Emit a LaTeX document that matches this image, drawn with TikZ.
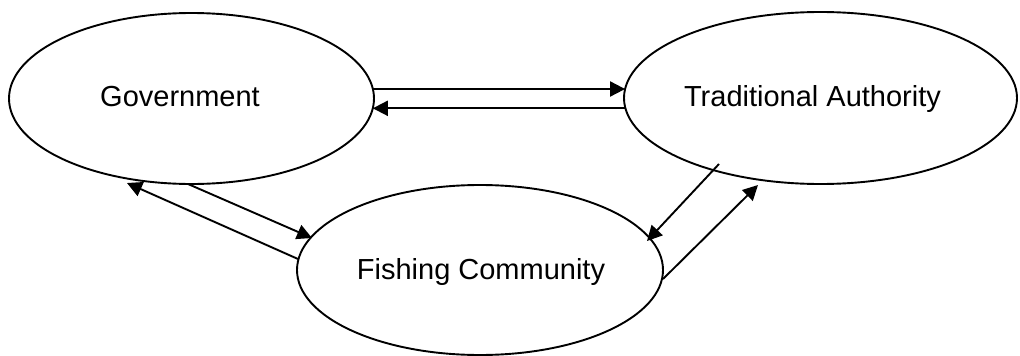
\documentclass[tikz,border=0pt]{standalone}
\usepackage{fontspec}
\setmainfont{Liberation Sans}
\usetikzlibrary{shapes.geometric,arrows.meta,calc}
\begin{document}
\begin{tikzpicture}[x=1pt,y=-1pt,
  oval/.style={draw, ellipse, line width=1.9pt, inner sep=0pt},
  lbl/.style={anchor=base, font=\fontsize{29}{34}\selectfont, inner sep=0pt},
  link/.style={line width=1.9pt, -{Triangle[length=15pt,width=15pt]}}]
\useasboundingbox (0,0) rectangle (1020,356);
\node[oval, minimum width=365pt, minimum height=171pt] (gov) at (191.5,98.5) {};
\node[oval, minimum width=393pt, minimum height=172pt] (ta) at (820.5,98) {};
\node[oval, minimum width=366pt, minimum height=170pt] (fc) at (480,270) {};
\node[lbl] (govtext) at (180,106.5) {Government};
\node[lbl] (tatext) at (812.5,106) {Traditional Authority};
\node[lbl] (fctext) at (481,279) {Fishing Community};
\draw[link] ($(gov)+(181.4,-9.5)$) -- ($(ta)+(-195.4,-9)$);
\draw[link] ($(ta)+(-195.1,10.3)$) -- ($(gov)+(181.3,9.8)$);
\draw[link] ($(gov)+(-3.5,85.5)$) -- ($(fc)+(-168,-32)$);
\draw[link] ($(fc)+(-182,-11)$) -- ($(gov)+(-64.5,84.5)$);
\draw[link] ($(ta)+(-101.5,66)$) -- ($(fc)+(167,-29)$);
\draw[link] ($(fc)+(183,9)$) -- ($(ta)+(-62.5,87)$);
\end{tikzpicture}
\end{document}
